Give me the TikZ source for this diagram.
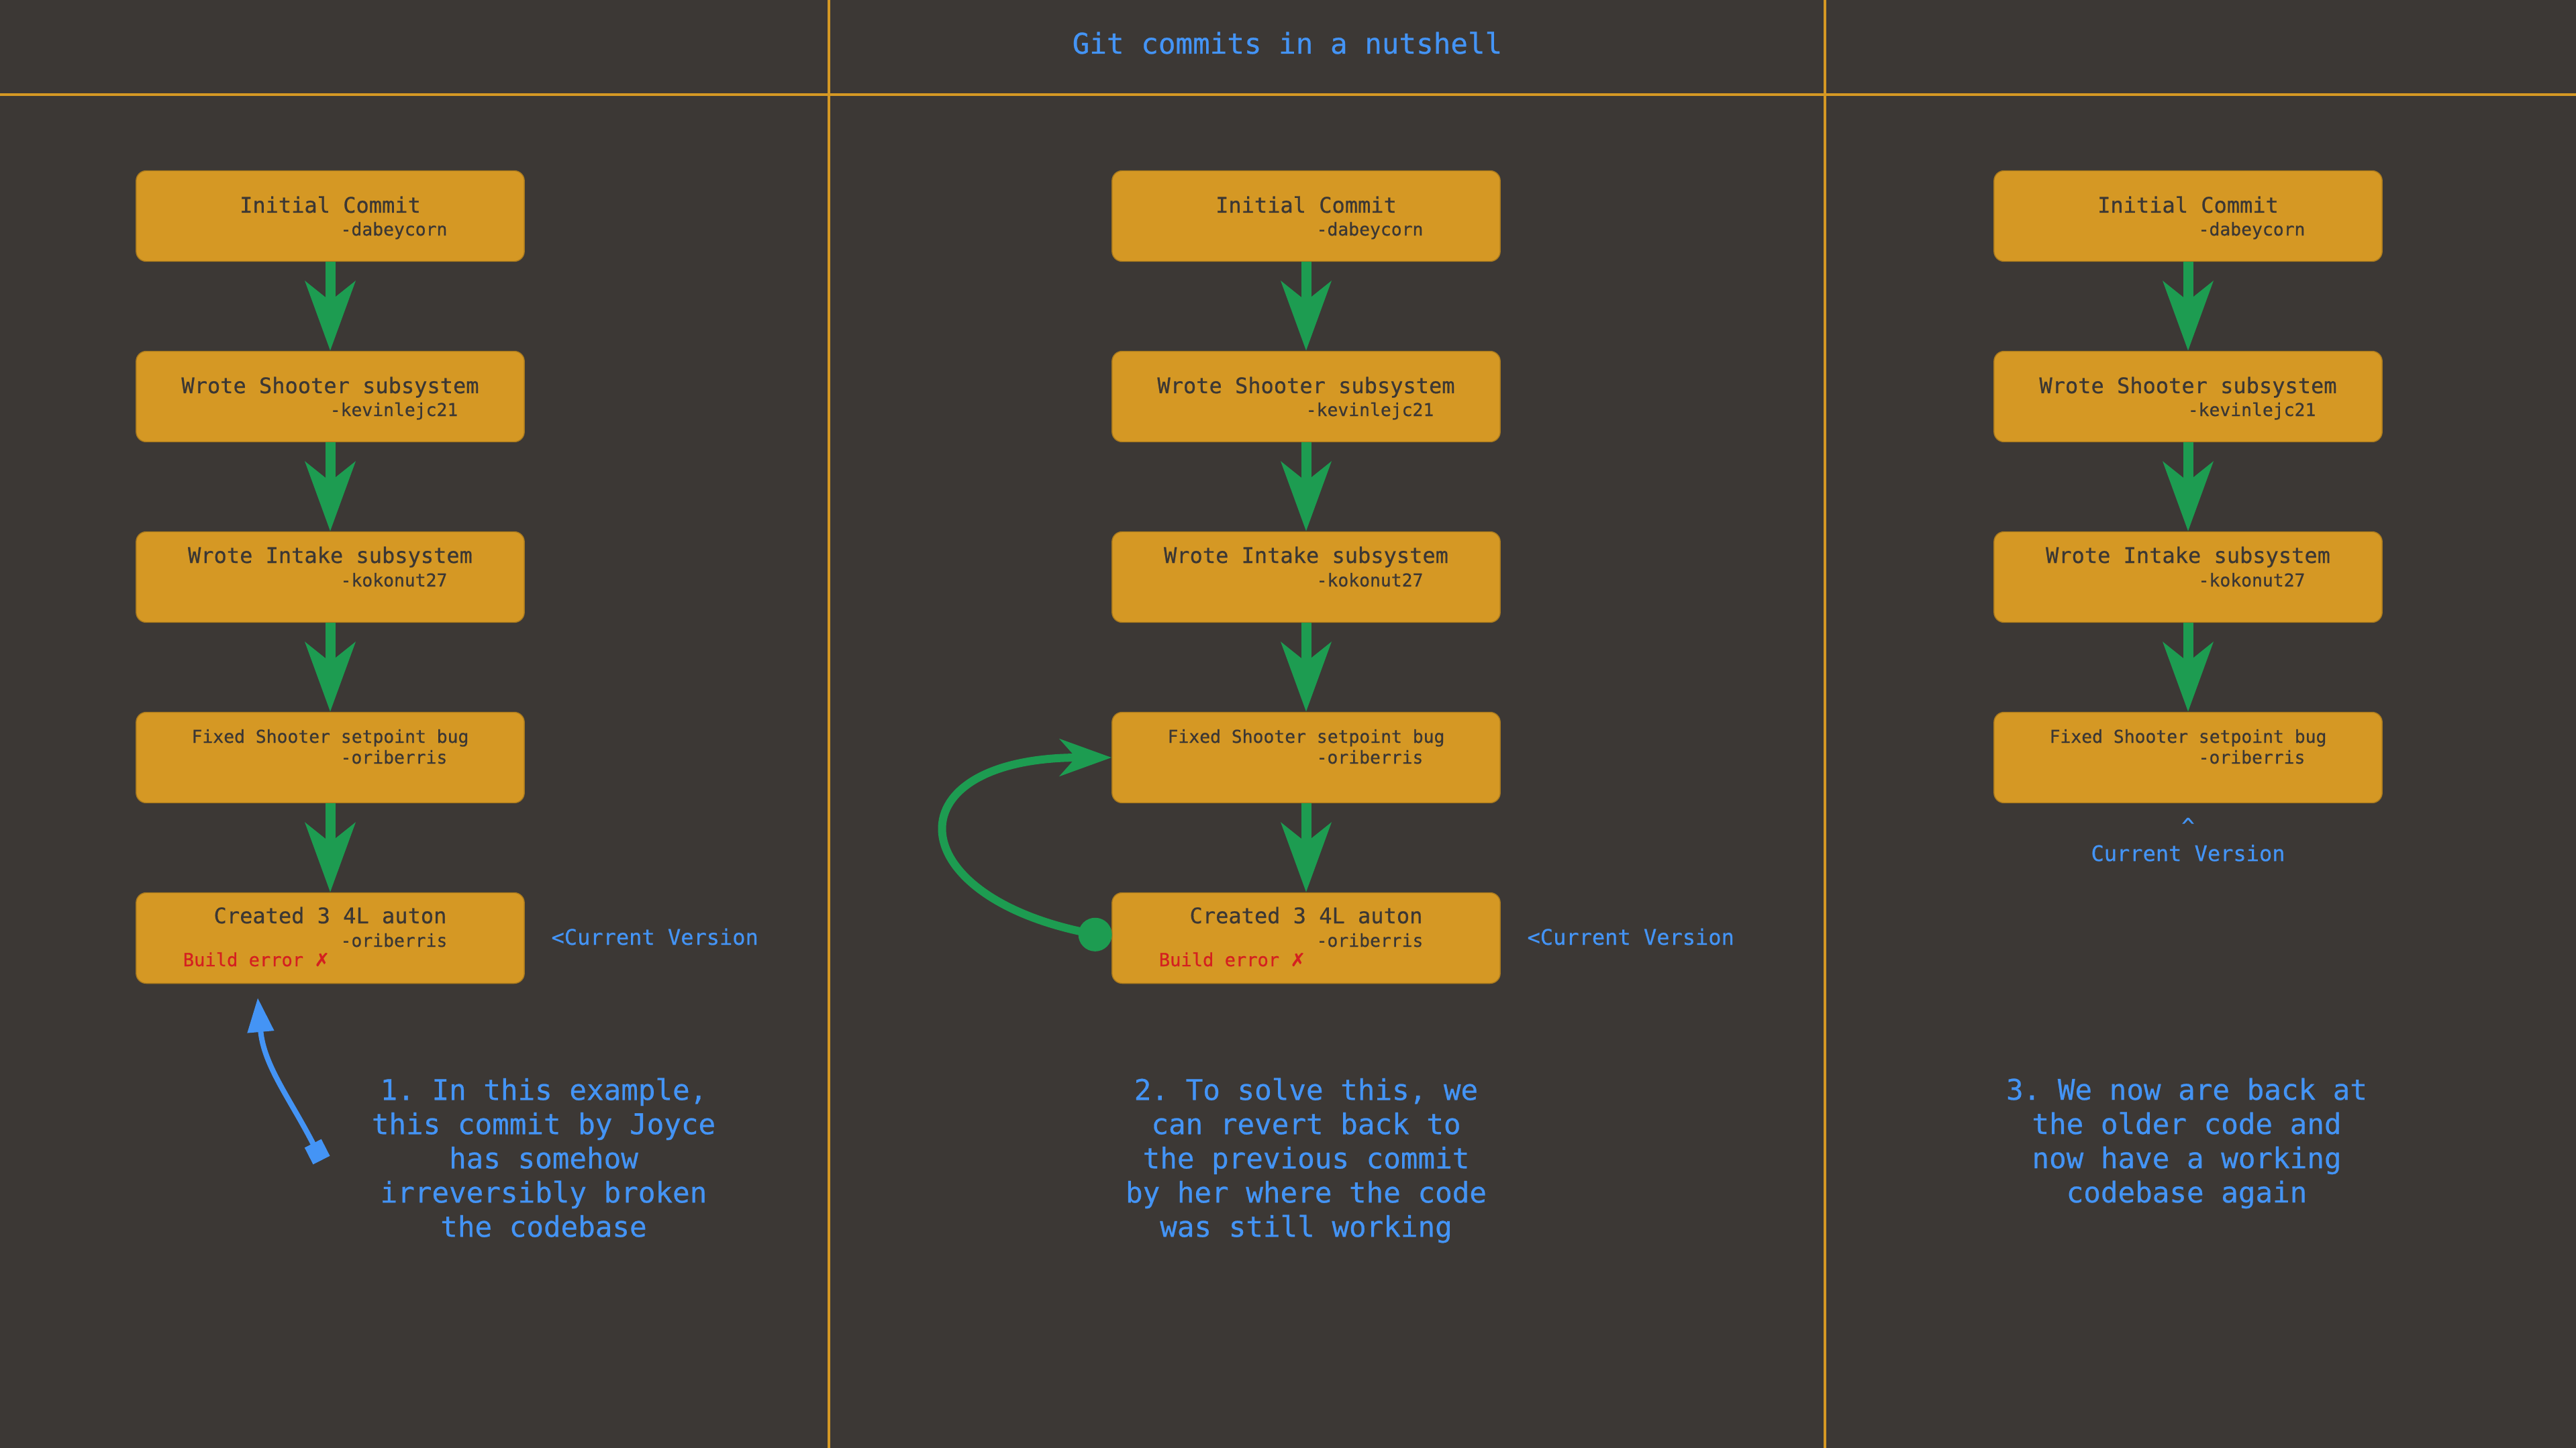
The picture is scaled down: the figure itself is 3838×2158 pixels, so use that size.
\documentclass[tikz,border=0pt]{standalone}
\usepackage{fontspec}
\setmonofont[FakeBold=0.6]{DejaVu Sans Mono}
\newfontfamily\symbolfont[FakeBold=0.6]{DejaVu Sans}
\usetikzlibrary{arrows.meta,calc}

\definecolor{bg}{RGB}{60,56,53}
\definecolor{commit}{RGB}{213,152,36}
\definecolor{ink}{RGB}{59,55,52}
\definecolor{arrowgreen}{RGB}{29,156,81}
\definecolor{note}{RGB}{68,148,245}
\definecolor{fail}{RGB}{212,32,32}

\newcommand\msgfont{\ttfamily\fontsize{9.1}{11}\selectfont}
\newcommand\whofont{\ttfamily\fontsize{7.5}{9}\selectfont}
\newcommand\notefont{\ttfamily\fontsize{12.1}{14.5}\selectfont}

\tikzset{
  frame/.style={draw=commit, line width=1.15pt},
  commitbox/.style={fill=commit, draw=commit!80!black, line width=0.4pt,
    rounded corners=1.5mm, minimum width=5.78cm, minimum height=1.35cm, inner sep=0pt},
  txt/.style={text=ink, inner sep=0pt, anchor=base},
  pointer/.style={text=note, font=\msgfont, inner sep=0pt},
  notetext/.style={text=note, font=\notefont, align=center, inner sep=0pt, anchor=north},
  flow/.style={draw=arrowgreen, line width=1.5mm,
    -{Stealth[length=10.3mm,width=7.4mm,inset=2.9mm]}},
  revert/.style={draw=arrowgreen, line width=1.2mm,
    {Circle[length=5mm,width=5mm]}-{Stealth[length=7.7mm,width=5.5mm,inset=2.4mm]}},
  blame/.style={draw=note, line width=0.8mm,
    {Square[length=2.8mm,width=2.8mm]}-{Triangle[length=5.1mm,width=3.8mm]}},
}

\begin{document}
\begin{tikzpicture}[x=0.01cm, y=0.01cm]
  \useasboundingbox (0,0) rectangle (3838,-2158);
  \fill[bg] (0,0) rectangle (3838,-2158);

  % Marco y titulo
  \draw[frame] (0,-141) -- (3838,-141);
  \draw[frame] (1235,0) -- (1235,-2158);
  \draw[frame] (2719,0) -- (2719,-2158);
  \node[pointer, font=\notefont, anchor=base] (title) at (1918,-80) {Git commits in a nutshell};

  % Commits comunes a las tres columnas
  \foreach \c/\cx in {a/492, b/1946, c/3260} {
    \foreach \i/\cy/\msg/\who/\dm/\dw/\f in {
        1/322/Initial Commit/dabeycorn/5/-29/\msgfont,
        2/591/Wrote Shooter subsystem/kevinlejc21/5/-29/\msgfont,
        3/860/Wrote Intake subsystem/kokonut27/21/-14/\msgfont,
        4/1129/Fixed Shooter setpoint bug/oriberris/22/-9/\whofont
        } {
      \node[commitbox] (\c\i) at (\cx,-\cy) {};
      \node[txt, font=\f] (\c\i m) at ($(\c\i)+(0,\dm)$) {\msg};
      \node[txt, font=\whofont] (\c\i w) at ($(\c\i)+(95,\dw)$) {-\who};
    }
    \foreach \i/\j in {1/2, 2/3, 3/4}
      \draw[flow] (\c\i.south) -- (\c\j.north);
  }

  % Commit roto
  \foreach \c/\cx in {a/492, b/1946} {
    \node[commitbox] (\c5) at (\cx,-1398) {};
    \node[txt, font=\msgfont] (\c5m) at ($(\c5)+(0,22)$) {Created 3 4L auton};
    \node[txt, font=\whofont] (\c5w) at ($(\c5)+(95,-13)$) {-oriberris};
    \node[txt, text=fail, font=\ttfamily\fontsize{7.7}{9}\selectfont] (\c5e)
      at ($(\c5)+(-110,-42)$) {Build error {\symbolfont ✗}};
    \node[pointer, anchor=base west] (\c5cur) at ($(\c5.east)+(39,-10)$) {<Current Version};
    \draw[flow] (\c4.south) -- (\c5.north);
  }

  % Columna 1
  \coordinate (blametail) at (479,-1729);
  \coordinate (blamehead) at (384,-1487);
  \draw[blame] (blametail) to[out=117, in=-85] (blamehead);
  \node[notetext] (note1) at (810,-1606)
    {1. In this example,\\this commit by Joyce\\has somehow\\irreversibly broken\\the codebase};

  % Columna 2
  \draw[revert] (b5.west) to[out=168, in=180, looseness=3.1] (b4.west);
  \node[notetext] (note2) at (1946,-1606)
    {2. To solve this, we\\can revert back to\\the previous commit\\by her where the code\\was still working};

  % Columna 3
  \node[pointer, anchor=base] (cup) at ($(c4.south)+(0,-45)$) {\textasciicircum};
  \node[pointer, anchor=base] (ccur) at ($(c4.south)+(0,-86)$) {Current Version};
  \node[notetext] (note3) at (3258,-1606)
    {3. We now are back at\\the older code and\\now have a working\\codebase again};
\end{tikzpicture}
\end{document}
